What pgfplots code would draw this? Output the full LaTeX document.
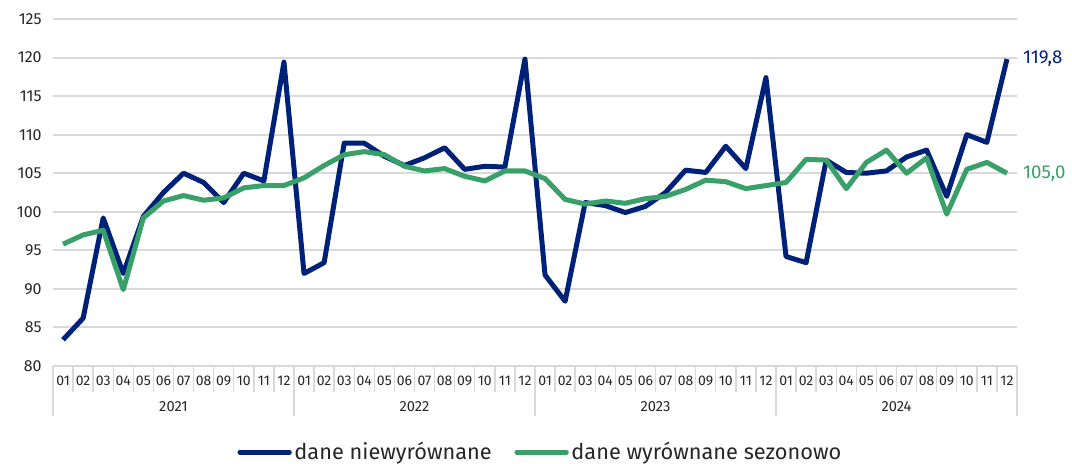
\documentclass[border=0pt]{standalone}
\usepackage{pgfplots}
\pgfplotsset{compat=1.18}
\usepackage{fontspec}
\setmainfont{Fira Sans}
\definecolor{cblue}{RGB}{0,33,120}
\definecolor{cgreen}{RGB}{58,160,105}
\definecolor{cgrid}{RGB}{217,217,217}
\begin{document}
\begin{tikzpicture}
\useasboundingbox (0,0) rectangle (804pt,348pt);
\begin{axis}[
  at={(39.75pt,73.5pt)}, anchor=south west,
  scale only axis, width=723pt, height=260.25pt,
  xmin=-0.5, xmax=47.5, ymin=80, ymax=125,
  clip=false,
  /pgf/number format/assume math mode=true,
  ytick={80,85,...,125},
  ymajorgrids, grid style={cgrid, line width=1.5pt},
  axis line style={draw=none},
  xtick={0,...,47},
  xticklabels={01,02,03,04,05,06,07,08,09,10,11,12,01,02,03,04,05,06,07,08,09,10,11,12,01,02,03,04,05,06,07,08,09,10,11,12,01,02,03,04,05,06,07,08,09,10,11,12},
  minor xtick={-0.5,0.5,...,47.5},
  xtick pos=bottom, ytick pos=left,
  tick align=outside,
  major tick length=0pt, minor tick length=19.5pt,
  tick style={cgrid, line width=1.1pt},
  extra x ticks={-0.5,11.5,23.5,35.5,47.5},
  extra x tick labels={},
  extra x tick style={major tick length=37.5pt, tick style={cgrid, line width=1.1pt}},
  xticklabel style={font=\fontsize{10.5}{12}\selectfont, anchor=center, yshift=-11.25pt, text=black!85},
  yticklabel style={font=\fontsize{12}{14}\selectfont, anchor=east, xshift=-5pt, text=black!85},
  legend style={at={(0.506,-0.248)}, anchor=center, draw=none, fill=none,
    legend columns=2, font=\fontsize{16.3}{18}\selectfont, text=black!85,
    /tikz/every even column/.append style={column sep=15pt}},
  legend image code/.code={\draw[#1, line cap=round] (0pt,0pt) -- (37pt,0pt);},
]
\addplot[cblue, line width=3.75pt, line join=round] coordinates {
(0,83.4)(1,86.2)(2,99.2)(3,92.0)(4,99.4)(5,102.5)(6,105.0)(7,103.8)(8,101.2)(9,105.0)(10,104.0)(11,119.4)
(12,92.0)(13,93.4)(14,108.9)(15,108.9)(16,107.2)(17,106.0)(18,107.0)(19,108.3)(20,105.5)(21,105.9)(22,105.8)(23,119.8)
(24,91.8)(25,88.4)(26,101.2)(27,100.8)(28,99.9)(29,100.7)(30,102.5)(31,105.4)(32,105.1)(33,108.5)(34,105.6)(35,117.4)
(36,94.2)(37,93.4)(38,106.7)(39,105.1)(40,105.0)(41,105.3)(42,107.1)(43,108.0)(44,102.0)(45,110.0)(46,109.0)(47,119.8)
};
\addlegendentry{dane niewyrównane}
\addplot[cgreen, line width=3.75pt, line join=round] coordinates {
(0,95.8)(1,97.0)(2,97.6)(3,89.9)(4,99.2)(5,101.4)(6,102.1)(7,101.5)(8,101.8)(9,103.1)(10,103.4)(11,103.4)
(12,104.4)(13,106.0)(14,107.4)(15,107.8)(16,107.4)(17,105.9)(18,105.3)(19,105.6)(20,104.6)(21,104.0)(22,105.3)(23,105.3)
(24,104.3)(25,101.6)(26,101.0)(27,101.4)(28,101.1)(29,101.7)(30,102.0)(31,102.9)(32,104.1)(33,103.9)(34,103.0)(35,103.4)
(36,103.8)(37,106.8)(38,106.7)(39,103.0)(40,106.4)(41,108.0)(42,105.0)(43,107.0)(44,99.7)(45,105.5)(46,106.4)(47,105.0)
};
\addlegendentry{dane wyrównane sezonowo}
\node[anchor=west, text=cblue, font=\fontsize{14}{16}\selectfont] at (axis cs:47,119.8) [xshift=8.5pt] {119,8};
\node[anchor=west, text=cgreen, font=\fontsize{14}{16}\selectfont] at (axis cs:47,105.0) [xshift=8.5pt] {105,0};
\node[font=\fontsize{11}{12}\selectfont, text=black!85] at (axis cs:5.5,80) [yshift=-30.75pt] {2021};
\node[font=\fontsize{11}{12}\selectfont, text=black!85] at (axis cs:17.5,80) [yshift=-30.75pt] {2022};
\node[font=\fontsize{11}{12}\selectfont, text=black!85] at (axis cs:29.5,80) [yshift=-30.75pt] {2023};
\node[font=\fontsize{11}{12}\selectfont, text=black!85] at (axis cs:41.5,80) [yshift=-30.75pt] {2024};
\end{axis}
\end{tikzpicture}
\end{document}
